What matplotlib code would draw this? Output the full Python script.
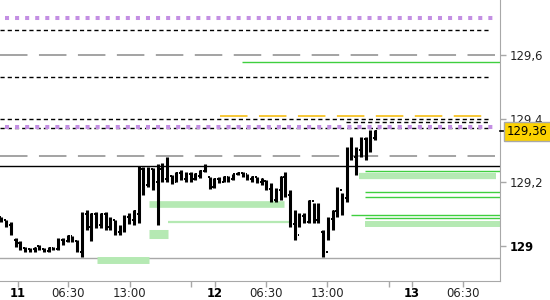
import matplotlib
matplotlib.use("Agg")
import matplotlib.pyplot as plt
from matplotlib.patches import FancyBboxPatch

# 30 min bars, trading time (session 01:10 - 22:00)
bar_start = (10, 20, 15)
highs = [129.092, 129.082, 129.076, 129.024, 129.014, 128.998, 128.993, 128.998, 129.003, 128.993,
         128.998, 128.998, 129.024, 129.024, 129.035, 129.031, 129.019, 129.108, 129.113, 129.105,
         129.108, 129.103, 129.108, 129.092, 129.082, 129.066, 129.097, 129.104, 129.113, 129.251,
         129.249, 129.249, 129.244, 129.257, 129.260, 129.280, 129.223, 129.233, 129.239, 129.233,
         129.233, 129.228, 129.239, 129.257, 129.218, 129.213, 129.218, 129.220, 129.220, 129.226,
         129.233, 129.233, 129.226, 129.220, 129.218, 129.213, 129.207, 129.197, 129.181, 129.220,
         129.232, 129.176, 129.113, 129.103, 129.103, 129.144, 129.134, 129.134, 129.050, 129.092,
         129.113, 129.186, 129.165, 129.312, 129.343, 129.312, 129.343, 129.343, 129.364, 129.364]
lows = [129.076, 129.059, 129.035, 128.998, 128.987, 128.982, 128.982, 128.982, 128.987, 128.982,
        128.982, 128.987, 128.987, 129.003, 129.013, 129.013, 128.982, 128.966, 129.050, 129.017,
        129.056, 129.056, 129.050, 129.050, 129.035, 129.035, 129.045, 129.069, 129.066, 129.071,
        129.160, 129.186, 129.176, 129.066, 129.202, 129.202, 129.195, 129.202, 129.207, 129.202,
        129.202, 129.207, 129.213, 129.232, 129.178, 129.181, 129.197, 129.201, 129.202, 129.207,
        129.223, 129.218, 129.207, 129.201, 129.198, 129.192, 129.176, 129.139, 129.139, 129.144,
        129.154, 129.061, 129.019, 129.061, 129.071, 129.071, 129.071, 129.071, 128.966, 129.019,
        129.050, 129.092, 129.097, 129.139, 129.270, 129.223, 129.280, 129.270, 129.296, 129.333]
opens = [129.09, 129.08, 129.065, 129.02, 129.01, 128.995, 128.99, 128.99, 129.0, 128.99,
         128.985, 128.995, 128.99, 129.02, 129.015, 129.03, 129.015, 128.98, 129.1, 129.06,
         129.1, 129.065, 129.1, 129.06, 129.08, 129.045, 129.06, 129.09, 129.08, 129.1,
         129.24, 129.19, 129.24, 129.2, 129.24, 129.21, 129.22, 129.2, 129.23, 129.21,
         129.225, 129.21, 129.22, 129.235, 129.215, 129.185, 129.21, 129.2, 129.215, 129.21,
         129.225, 129.23, 129.225, 129.21, 129.215, 129.2, 129.205, 129.18, 129.145, 129.175,
         129.215, 129.16, 129.07, 129.035, 129.095, 129.075, 129.14, 129.08, 129.045, 128.98,
         129.085, 129.11, 129.175, 129.15, 129.3, 129.28, 129.3, 129.335, 129.3, 129.34]
closes = [129.08, 129.065, 129.04, 129.005, 128.995, 128.99, 128.985, 128.995, 128.99, 128.985,
          128.995, 128.99, 129.02, 129.01, 129.03, 129.02, 128.99, 129.1, 129.06, 129.1,
          129.06, 129.1, 129.06, 129.085, 129.045, 129.06, 129.09, 129.08, 129.11, 129.24,
          129.19, 129.24, 129.2, 129.24, 129.21, 129.27, 129.2, 129.23, 129.21, 129.225,
          129.21, 129.225, 129.235, 129.25, 129.185, 129.21, 129.2, 129.215, 129.21, 129.225,
          129.23, 129.225, 129.21, 129.215, 129.2, 129.21, 129.18, 129.145, 129.175, 129.215,
          129.16, 129.07, 129.03, 129.095, 129.075, 129.14, 129.08, 129.125, 128.975, 129.085,
          129.11, 129.18, 129.16, 129.3, 129.28, 129.3, 129.335, 129.3, 129.355, 129.36]
last_price = 129.36

# full width levels
black_dash_levels = [129.677, 129.53, 129.40, 129.37]
purple_dot_levels = [129.717, 129.374]
gray_dash_levels = [129.60, 129.283]
black_level = 129.251
gray_level = 128.961

# partial levels: price, start (day, h, m), end (day, h, m) or None for right edge
black_dash_partial = [(129.39, (12, 15, 0), None)]
orange_levels = [(129.407, (12, 1, 40), (13, 9, 25))]
green_lines = [(129.577, (12, 4, 0), None),
               (129.235, (12, 17, 0), None),
               (129.169, (12, 17, 0), None),
               (129.153, (12, 17, 0), None),
               (129.096, (12, 15, 30), None),
               (129.087, (12, 17, 0), None)]
zone_lines = [(128.957, (11, 9, 30), (11, 15, 0), 5.0),
              (129.039, (11, 15, 0), (11, 17, 0), 6.5),
              (129.131, (11, 15, 0), (12, 8, 30), 4.8),
              (129.076, (11, 17, 0), (12, 9, 0), 1.6),
              (129.220, (12, 16, 20), (13, 10, 0), 4.5),
              (129.070, (12, 17, 0), None, 4.3)]

xtick_times = [(11, 0, 0), (11, 6, 30), (11, 13, 0), (11, 19, 30), (12, 0, 0),
               (12, 6, 30), (12, 13, 0), (12, 19, 30), (13, 0, 0), (13, 6, 30)]
xtick_labels = ["11", "06:30", "13:00", "", "12", "06:30", "13:00", "", "13", "06:30"]
ytick_vals = [129.0, 129.2, 129.4, 129.6]
ytick_labels = ["129", "129,2", "129,4", "129,6"]

SESSION_OPEN = 1 + 10 / 60.0
SESSION_LEN = 22 - SESSION_OPEN


def to_x(t):
    day, hh, mm = t
    return (day - 11) * SESSION_LEN + max(hh + mm / 60.0 - SESSION_OPEN, 0)


x_left, x_right = -1.903, 50.95

fig = plt.figure(figsize=(5.5, 3), dpi=100)
ax = fig.add_axes([0, 19 / 300, 500 / 550, 281 / 300])
ax.set_xlim(x_left, x_right)
ax.set_ylim(128.890, 129.772)

for y in gray_dash_levels:
    ax.axhline(y, color="#8a8a8a", lw=1.1, ls=(0, (18, 7.5)), zorder=1)
ax.axhline(black_level, color="black", lw=1.0, zorder=1)
ax.axhline(gray_level, color="#a8a8a8", lw=1.0, zorder=1)

for y, s, e, w in zone_lines:
    x1 = x_right if e is None else to_x(e)
    ax.hlines(y, to_x(s), x1, color="#b5e9b3", lw=w, zorder=2)
for y, s, e in green_lines:
    x1 = x_right if e is None else to_x(e)
    ax.hlines(y, to_x(s), x1, color="#3fcf3f", lw=1.0, zorder=2)
for y, s, e in orange_levels:
    ax.hlines(y, to_x(s), to_x(e), color="#f5b800", lw=1.1, ls=(0, (18, 7.5)), zorder=2)
for y in black_dash_levels:
    ax.hlines(y, x_left, 49.9, color="black", lw=1.0, ls=(0, (3, 2.2)), zorder=3)
for y, s, e in black_dash_partial:
    ax.hlines(y, to_x(s), 49.9, color="black", lw=1.0, ls=(0, (3, 2.2)), zorder=3)
for y in purple_dot_levels:
    ax.hlines(y, x_left + 0.5, 50.2, color="#c38fe3", lw=2.9, ls=(0, (1, 1.5)), zorder=3)

# OHLC bars
x0 = to_x(bar_start)
xs = [x0 + 0.5 * i for i in range(len(highs))]
ax.vlines(xs, lows, highs, color="black", lw=2.2, zorder=4)
tick = 0.2
ax.hlines(opens, [x - tick for x in xs], xs, color="black", lw=1.4, zorder=4)
ax.hlines(closes, xs, [x + tick for x in xs], color="black", lw=1.4, zorder=4)

# axes styling
for side in ["top", "left"]:
    ax.spines[side].set_visible(False)
ax.spines["right"].set_color("#a8a8a8")
ax.spines["bottom"].set_color("#a8a8a8")
ax.yaxis.tick_right()
ax.set_yticks(ytick_vals, ytick_labels)
ax.set_xticks([to_x(t) for t in xtick_times], xtick_labels)
ax.tick_params(axis="both", colors="#a8a8a8", length=4, width=1, labelsize=8.4,
               labelcolor="#222222")
ax.tick_params(axis="x", pad=0.5)
ax.tick_params(axis="y", pad=3)
for lab in ax.get_xticklabels():
    if lab.get_text() in ("11", "12", "13"):
        lab.set_fontweight("bold")
        lab.set_color("black")
for lab in ax.get_yticklabels():
    if lab.get_text() == "129":
        lab.set_fontweight("bold")
        lab.set_color("black")

# last price tag
ax.plot([1.0, 1.01], [last_price, last_price], transform=ax.get_yaxis_transform(),
        color="black", lw=1.2, clip_on=False, zorder=6)
tag = FancyBboxPatch((1.008, last_price - 0.03), 0.094, 0.06,
                     boxstyle="square,pad=0", transform=ax.get_yaxis_transform(),
                     facecolor="#fcd200", edgecolor="#a8a8a8", lw=1.0, clip_on=False, zorder=6)
ax.add_patch(tag)
ax.text(1.055, last_price, "129,36", transform=ax.get_yaxis_transform(), ha="center",
        va="center", fontsize=8.4, color="black", zorder=7, clip_on=False)

fig.savefig("out.png", dpi=100)
